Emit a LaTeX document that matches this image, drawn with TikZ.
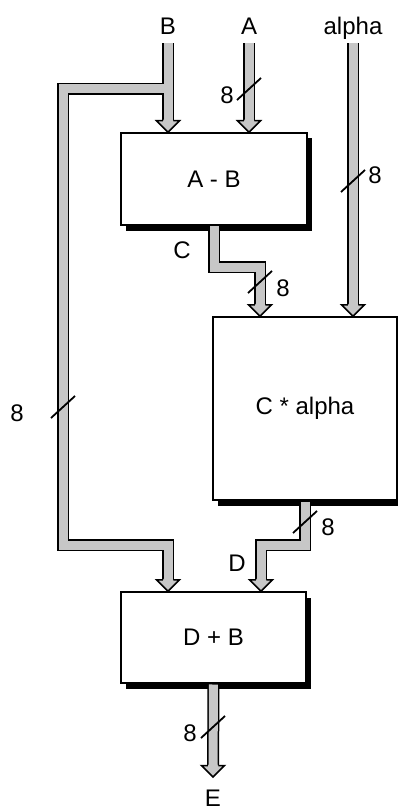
\documentclass[tikz,border=0pt]{standalone}
\usepackage{fontspec}
\setmainfont{Liberation Sans}
\usetikzlibrary{shadows}
\colorlet{busgray}{black!22}

\begin{document}
\begin{tikzpicture}[x=1pt, y=-1pt,
    lbl/.style={inner sep=2pt, font=\fontsize{24}{28}\selectfont},
    toplbl/.style={lbl, anchor=base, text depth=6pt},
    block/.style={lbl, draw, line width=1.5pt, fill=white,
      drop shadow={shadow xshift=5pt, shadow yshift=-5.5pt, opacity=1, fill=black}},
    bus/.style={draw=black, line width=1.5pt, double=busgray,
      double distance=9pt, line join=miter},
    bushead/.pic={
      \fill[busgray] (-4.6,-12.5) -- (-4.6,-11.5) -- (-11.5,-11.5) -- (0,0)
        -- (11.5,-11.5) -- (4.6,-11.5) -- (4.6,-12.5) -- cycle;
      \draw[line width=1.5pt, line join=miter] (-5.25,-11.5) -- (-11.5,-11.5)
        -- (0,0) -- (11.5,-11.5) -- (5.25,-11.5);},
    buswidth/.pic={\draw[line width=1.8pt] (-12,11) -- (12,-11);}]
  \useasboundingbox (0,0) rectangle (398,810);

  % Inputs
  \node[toplbl] (inB) at (168,35) {B};
  \node[toplbl] (inA) at (249,35) {A};
  \node[toplbl] (inAl) at (353,35) {alpha};

  % Blocks
  \node[block, minimum width=186pt, minimum height=92pt] (sub) at (214,179) {A - B};
  \node[block, minimum width=184pt, minimum height=183pt] (mul) at (305,408.5) {C * alpha};
  \node[block, minimum width=185pt, minimum height=91pt] (add) at (213.5,637.5) {D + B};

  % Output
  \node[lbl] (outE) at (213,798) {E};
  \coordinate (tipE) at (213,777);

  % Bend points of the buses
  \coordinate (jB) at (168,89);
  \coordinate (lB1) at (63,89);
  \coordinate (lB2) at (63,545);
  \coordinate (jB2) at (168,545);
  \coordinate (cC1) at (214,267);
  \coordinate (cC2) at (260,267);
  \coordinate (cD1) at (305,545);
  \coordinate (cD2) at (261,545);

  % Bus B and its branch: outline first, then the filling, so the joint stays open
  \foreach \w/\c in {12/black, 9/busgray} {
    \draw[line width=\w pt, \c, line join=miter, shorten >=11.5pt] (inB.south) -- (sub.north -| inB);
    \draw[line width=\w pt, \c, line join=miter, shorten >=11.5pt]
      (jB) -- (lB1) -- (lB2) -- (jB2) -- (add.north -| jB2);
  }

  % Other buses
  \draw[bus, shorten >=11.5pt] (inA.south) -- (sub.north -| inA);
  \draw[bus, shorten >=11.5pt] (inAl.south) -- (mul.north -| inAl);
  \draw[bus, shorten <=0.75pt, shorten >=11.5pt] (sub.south) -- (cC1) -- (cC2) -- (mul.north -| cC2);
  \draw[bus, shorten <=0.75pt, shorten >=11.5pt] (mul.south) -- (cD1) -- (cD2) -- (add.north -| cD2);
  \draw[bus, shorten <=0.75pt, shorten >=11.5pt] (add.south) -- (tipE);

  % Arrow heads
  \pic at (sub.north -| inB) {bushead};
  \pic at (sub.north -| inA) {bushead};
  \pic at (mul.north -| cC2) {bushead};
  \pic at (mul.north -| inAl) {bushead};
  \pic at (add.north -| jB2) {bushead};
  \pic at (add.north -| cD2) {bushead};
  \pic at (tipE) {bushead};

  % Bus widths
  \foreach \p in {(249,89), (353,181), (260,282), (63,407), (305,522), (213,727)}
    \pic at \p {buswidth};
  \foreach \x/\y/\n in {227/95/A, 375/175/Al, 283/288/C, 17/413/B, 328/527/D, 190/733/E}
    \node[lbl] (w\n) at (\x,\y) {8};

  % Bus names
  \node[lbl] (lC) at (182,250) {C};
  \node[lbl] (lD) at (237,563) {D};
\end{tikzpicture}
\end{document}
